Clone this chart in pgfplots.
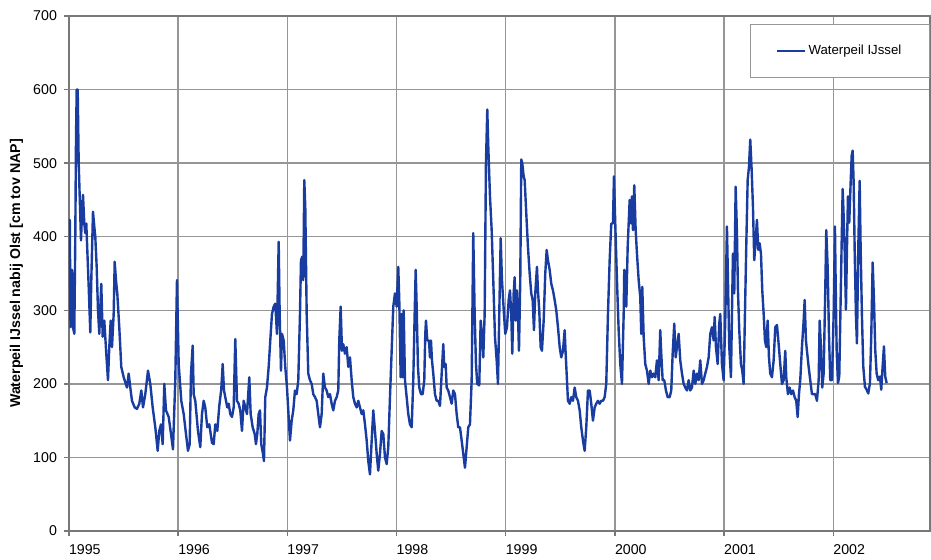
\documentclass[border=0pt]{standalone}
\usepackage{pgfplots}
\usepackage{pgfplotstable}
\pgfplotsset{compat=1.18}
\usepackage{fontspec}
\setmainfont{Liberation Sans}
\definecolor{wline}{RGB}{25,60,160}
\definecolor{gridc}{RGB}{150,150,150}
% px = horizontal position on the original chart, val = water level [cm tov NAP]
\pgfplotstableread{
px val
69.2 330
69.8 423
70.5 277
72 355
73 277
74.3 268
75.3 400
76 532
76.7 600
77.7 600
78.7 500
79.7 455
81 395
82 432
83 457
84.3 418
85.3 405
86.3 418
87.7 368
88.7 332
90.3 270
91.3 341
93 434
94.3 414
95.3 400
96.7 359
98 300
99.3 268
101.3 336
102.7 264
104.3 286
106.3 241
108 205
109.3 250
110.7 286
112 250
113.7 295
114.7 366
116 341
117.3 323
119.3 277
121.3 223
123.7 209
127 195
128.7 214
130.3 195
132 177
134.7 168
137 166
139.3 173
141.3 191
143 168
145.3 186
148 218
150.3 200
152.7 168
155.3 141
157.7 109
159.3 136
161 145
162.7 118
164.3 200
166 164
168.7 155
171 132
173 111
175.3 205
177 341
178.7 227
181.3 177
183.7 159
186 132
188 109
189.7 118
191 214
192.7 252
193.7 186
195.3 177
198 136
200.3 114
202 159
203.7 177
205.3 168
207.3 141
209.3 145
212 120
213.7 118
215.3 145
217.3 136
219.3 170
221.3 193
222.7 227
224 191
225.3 182
227.3 168
228.7 173
230.3 159
232 155
233.7 168
235.3 261
237 177
238.7 173
240.3 164
242 136
243.7 177
245.3 168
247 159
249.3 209
250.7 159
252.7 141
254.7 132
256 118
257.3 132
258.7 159
260 164
261.3 118
263 105
264 95
265.3 182
267 195
268.7 223
270.3 259
272 295
273.7 305
275.3 309
277 268
278.7 393
279.7 295
281 218
282 268
283.7 259
285.3 223
287 195
290 123
291.7 150
293.3 164
295 191
296.7 186
298.3 205
300 295
301 368
302.3 373
303.3 341
304.3 477
305.3 441
306.7 295
308.3 214
310 205
311.7 200
313.3 186
315 182
316.7 177
318.3 159
320 141
321.7 159
323.3 214
325 195
326.7 191
328.3 182
330 186
331.7 173
333.3 164
335 177
336.7 182
338.3 191
339.3 259
340.7 305
342 245
343.3 254
345 241
346.7 250
348.3 223
350 236
351.7 205
353.3 182
355 173
356.7 168
358.3 177
360 168
361.7 159
363.3 164
365 145
366.7 123
368.3 95
370 77
371.7 123
373.3 164
375 136
376.7 105
378.3 82
380 105
381.7 136
383.3 132
385 100
386.7 91
388.3 114
390 182
391.7 245
393.3 305
395 323
396.7 305
398.3 359
399.3 314
400.7 209
401.7 295
402.7 209
403.7 300
405 205
406.7 182
408.3 159
410 145
411.7 141
413.3 205
414.7 295
415.7 355
416.7 305
418 223
419.3 195
421 186
422.7 186
424.3 205
425.3 268
426 286
427.3 259
429 259
430 236
431 259
432 232
433.3 214
435 186
436.7 177
438.3 177
440 170
441.7 214
443.3 254
444.3 223
445.7 227
446.7 195
448.3 191
450 182
451.7 173
453.3 191
455 186
456.7 159
458.3 141
460 141
461.7 123
463.3 105
465 86
466.7 114
468.3 141
470 145
471.7 205
473.3 405
474.7 295
476 227
477.3 200
479.3 198
480.7 286
482 268
483.3 236
484.7 295
486 500
487.3 573
488.3 523
490 455
491.7 409
493.3 341
495 264
496.7 232
498 200
499.3 295
500.7 398
502 341
504 295
505.3 268
507 277
508.7 314
510 327
511.3 295
512.3 241
513.7 323
514.7 345
515.7 286
517 327
518 295
519 245
520.3 341
521.3 505
522.3 500
523.7 482
524.7 477
526.3 432
528 386
529.7 350
531.3 323
532.7 314
534 273
535.3 323
537 359
538 327
539.3 300
540.7 250
542 245
543.7 286
545.3 350
546.7 382
548 368
549.7 355
551.3 336
553 327
554.7 314
556.3 300
558 277
559.7 250
561.3 236
563 245
564.7 273
565.7 241
567 205
568 177
569.7 173
571.3 182
573 177
574.7 195
576.3 182
578 177
579.7 164
581.3 141
583 123
584.7 109
586.3 141
588 191
589.7 191
591.3 173
593 150
594.7 168
596.3 173
598 177
599.7 173
601.3 177
603 177
604.7 182
606.3 200
608 295
609.7 368
611.3 418
613 418
614 482
615.3 418
617 341
618.7 273
620.3 227
622 200
623.7 295
624.3 355
625.3 341
626.3 305
627.7 386
628.7 418
629.7 450
631 418
632 455
633 409
634.3 470
635.7 409
637 377
638.7 341
640.3 318
641.3 268
642.3 332
643.7 264
645.3 227
647 218
648.7 200
650.3 218
652 209
653.7 214
655.3 209
657 232
658.7 205
660.3 273
661.3 241
662.7 205
664.3 205
666 191
667.7 182
669.7 182
671.3 191
672.7 241
674.3 282
675.7 236
677 250
678.7 268
680.3 232
682 214
683.7 200
685.3 195
687 191
688.7 205
690.3 191
692 195
693.7 218
695.3 200
697 214
698.7 205
700.3 232
702 200
703.7 205
705.3 214
707 223
708.7 236
710.3 268
712 277
713.7 259
714.7 291
716 250
717.7 227
719.3 282
720.3 295
722 227
723.7 205
725.3 286
727 414
728 341
729.3 250
731 209
732 295
733 377
734.3 323
735.7 468
737 405
738 327
739.3 273
741 227
742.3 218
743.7 200
745 295
746.3 386
747.7 477
749 495
750.3 532
751.7 491
753 441
754.3 368
755.7 395
757 423
758.3 382
759.7 391
761 377
762.3 327
763.7 295
765 259
766.3 250
767.7 286
769 236
770.3 214
772 209
773.7 232
775.3 277
777 280
778.7 254
780.3 227
782 200
783.7 205
785.3 245
786.3 209
788 186
789.7 195
791.3 186
793 191
794.7 182
796.3 177
797.7 155
799 186
800.3 205
802 250
803.7 286
804.7 314
806 259
807 245
808.7 223
810.3 205
812 186
813.7 186
815.3 186
817 177
818.7 205
819.7 286
821 250
822.3 195
823.7 214
825.3 327
826.3 409
827.7 359
829 268
830.3 205
832 205
833.7 295
835 414
835.7 337
836.7 246
838 201
839.3 210
840.7 315
841.7 392
842.7 465
843.7 428
844.7 383
846 301
847 383
848 455
849.3 419
850.7 474
851.7 510
852.7 517
853.7 474
854.7 383
856 292
857 255
858.3 383
859.7 476
860.7 383
862 292
863.3 224
865 196
866.7 192
868.3 187
870 201
871.3 265
872.7 365
874 315
875.3 246
876.7 214
878.3 205
880 210
881.3 192
882.7 224
884 251
885.3 210
886.7 201
}\leveldata
\begin{document}
\begin{tikzpicture}
\begin{axis}[
  scale only axis,
  width=430.5pt, height=257.5pt,
  xmin=1995, xmax=2002.885,
  ymin=0, ymax=700,
  xtick={1995,1996,1997,1998,1999,2000,2001,2002},
  xticklabels={1995,1996,1997,1998,1999,2000,2001,2002},
  ytick={0,100,200,300,400,500,600,700},
  grid=major,
  grid style={gridc, line width=0.7pt},
  axis line style={gridc!80!black, line width=0.8pt},
  tick style={gridc!80!black, line width=0.7pt},
  tick align=outside,
  major tick length=2.5pt,
  xtick pos=bottom, ytick pos=left,
  /pgf/number format/assume math mode=true,
  /pgf/number format/1000 sep={},
  tick label style={font=\fontsize{7.1}{8}\selectfont},
  xticklabel style={anchor=north west, xshift=-3.5pt, yshift=-1pt},
  ylabel={Waterpeil IJssel nabij Olst [cm tov NAP]},
  ylabel style={font=\fontsize{7.1}{8}\selectfont\bfseries, at={(axis description cs:-0.061,0.5)}, anchor=center},
  legend style={at={(1,1)}, anchor=north east, yshift=-4pt,
    draw=gridc, line width=0.7pt, fill=white,
    inner xsep=13pt, inner ysep=8pt,
    font=\fontsize{6.6}{8}\selectfont,
    nodes={inner xsep=1pt},
    /tikz/every even column/.append style={column sep=0pt}},
  legend cell align=left,
  legend image code/.code={\draw[#1] (0pt,0pt) -- (14pt,0pt);},
]
\addplot[wline, line width=1.2pt, line join=round]
  table[x expr={1995+(\thisrow{px}-69)/109.2}, y=val] {\leveldata};
\addlegendentry{Waterpeil IJssel}
\end{axis}
\pgfresetboundingbox
\path (-34.5pt,-14pt) rectangle (431pt,265.5pt);
\end{tikzpicture}
\end{document}
